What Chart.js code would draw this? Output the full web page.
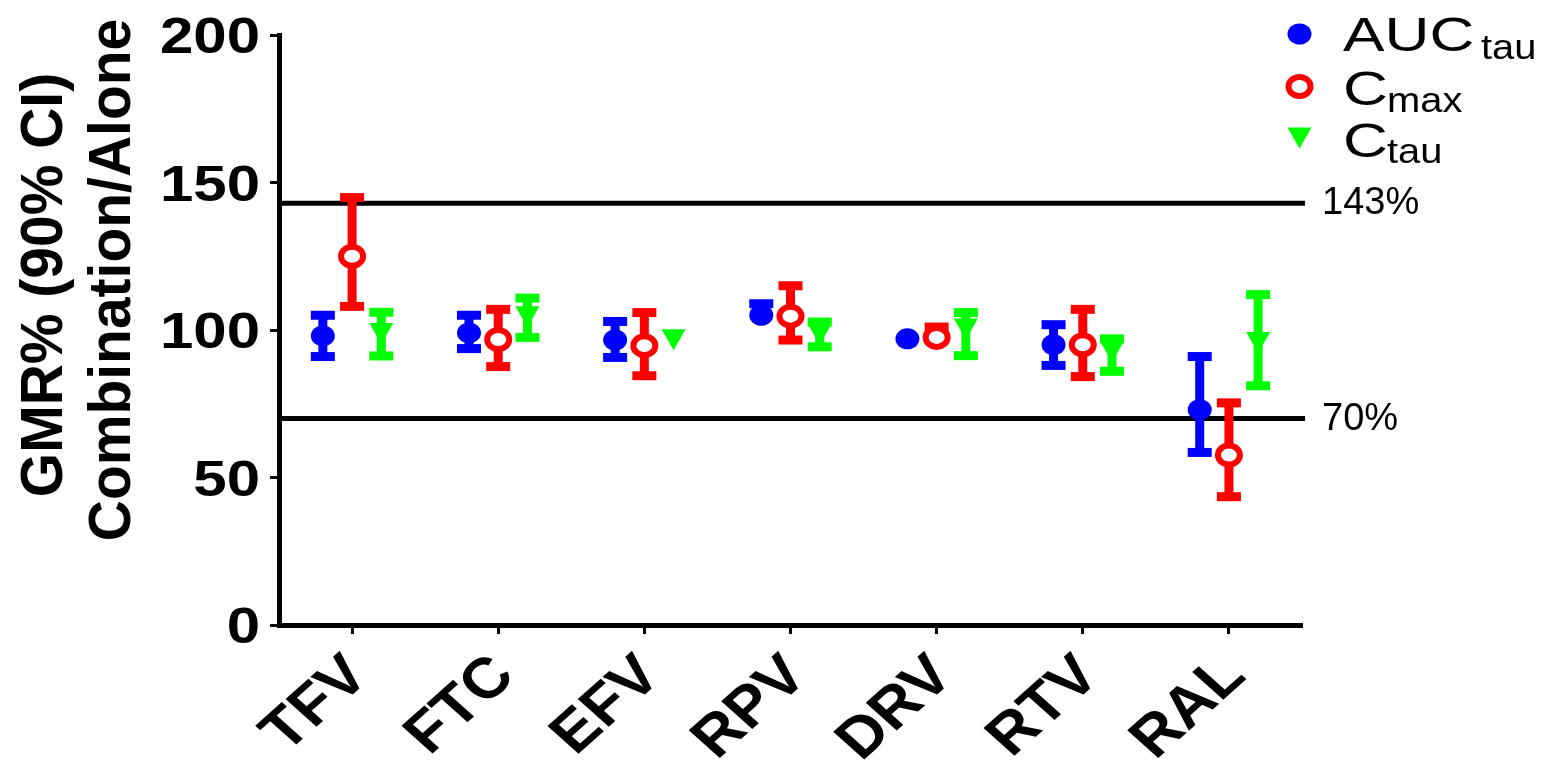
<!DOCTYPE html>
<html>
<head>
<meta charset="utf-8">
<script src="https://cdn.jsdelivr.net/npm/chart.js@4.4.1/dist/chart.umd.min.js"></script>
<style>
  html, body { margin: 0; padding: 0; background: #fff; }
  #wrap { position: relative; width: 1549px; height: 760px; }
</style>
</head>
<body>
<div id="wrap"><canvas id="c"></canvas></div>
<script>
// Drugs on the x axis
const categories = ['TFV', 'FTC', 'EFV', 'RPV', 'DRV', 'RTV', 'RAL'];

// Geometric mean ratio (%) and 90% CI, combination vs. alone
const aucMean  = [98, 99, 96.6, 105, 97, 95, 73];
const aucLow   = [91, 93.7, 90.7, 103, 96, 88, 58.5];
const aucHigh  = [105, 105, 102.9, 108.9, 98.5, 101.8, 91];

const cmaxMean = [125, 96.8, 94.7, 104.7, 97.5, 95, 57.6];
const cmaxLow  = [108, 87.6, 84.5, 96.6, 95.5, 84.2, 43.5];
const cmaxHigh = [144.9, 107, 105.9, 115, 101, 107, 75.3];

const ctauMean = [98.8, 104.5, 96.7, 98.6, 100.3, 92.6, 95.8];
const ctauLow  = [91.2, 97.5, 96, 94.3, 91.3, 86, 81.1];
const ctauHigh = [106, 110.8, 97.5, 102.7, 105.9, 97, 112];

// Axis ticks and bioequivalence limits
const yTicks = [0, 50, 100, 150, 200];
const refLevels = [143, 70];
const refLabels = ['143%', '70%'];

const FONT = '"Liberation Sans", Arial, Helvetica, sans-serif';
const SYMBOL_HALF = 10; // caps closer than this to the mean sit inside the symbol

const series = [
  { label: 'AUC tau', main: 'AUC', sub: 'tau', color: '#0000ff', marker: 'circle',   mean: aucMean,  low: aucLow,  high: aucHigh },
  { label: 'Cmax',    main: 'C',   sub: 'max', color: '#ff0000', marker: 'ring',     mean: cmaxMean, low: cmaxLow, high: cmaxHigh },
  { label: 'Ctau',    main: 'C',   sub: 'tau', color: '#00ff00', marker: 'triangle', mean: ctauMean, low: ctauLow, high: ctauHigh }
];

function drawText(ctx, text, x, y, o) {
  ctx.save();
  ctx.translate(x, y);
  ctx.scale(o.sx || 1, 1);
  if (o.rot) ctx.rotate(o.rot);
  ctx.font = o.font;
  ctx.textAlign = o.align || 'left';
  ctx.textBaseline = o.baseline || 'alphabetic';
  ctx.fillStyle = o.color || '#000';
  ctx.fillText(text, 0, 0);
  ctx.restore();
}

function drawMarker(ctx, style, x, y, color) {
  ctx.save();
  ctx.beginPath();
  if (style === 'circle') {
    ctx.fillStyle = color;
    ctx.ellipse(x, y, 12, 10.5, 0, 0, Math.PI * 2);
    ctx.fill();
  } else if (style === 'ring') {
    ctx.fillStyle = '#fff';
    ctx.strokeStyle = color;
    ctx.lineWidth = 6;
    ctx.ellipse(x, y, 11, 9.5, 0, 0, Math.PI * 2);
    ctx.fill();
    ctx.stroke();
  } else {
    ctx.fillStyle = color;
    ctx.moveTo(x - 12, y - 10.5);
    ctx.lineTo(x + 12, y - 10.5);
    ctx.lineTo(x, y + 10.5);
    ctx.closePath();
    ctx.fill();
  }
  ctx.restore();
}

// Reference lines behind the data
const refLinePlugin = {
  id: 'refLines',
  beforeDatasetsDraw(chart) {
    const { ctx, chartArea, scales: { y } } = chart;
    ctx.save();
    ctx.strokeStyle = '#000';
    ctx.lineWidth = 5;
    refLevels.forEach(v => {
      const py = y.getPixelForValue(v);
      ctx.beginPath();
      ctx.moveTo(chartArea.left, py);
      ctx.lineTo(chartArea.right + 3, py);
      ctx.stroke();
    });
    ctx.restore();
  }
};

// Error-bar caps and mean markers on top of the whisker bars
const errorBarPlugin = {
  id: 'errorBars',
  afterDatasetsDraw(chart) {
    const { ctx, scales: { y } } = chart;
    chart.data.datasets.forEach((ds, di) => {
      const meta = chart.getDatasetMeta(di);
      meta.data.forEach((bar, i) => {
        const x = bar.x;
        const [lo, hi] = ds.data[i];
        const pm = y.getPixelForValue(ds.means[i]);
        ctx.fillStyle = ds.backgroundColor;
        [lo, hi].forEach(v => {
          const py = y.getPixelForValue(v);
          if (Math.abs(py - pm) > SYMBOL_HALF) ctx.fillRect(x - 12, py - 4.5, 24, 9);
        });
        drawMarker(ctx, ds.marker, x, pm, ds.backgroundColor);
      });
    });
  }
};

// Axis labels, titles, limit labels and the legend
const textPlugin = {
  id: 'texts',
  afterDraw(chart) {
    const { ctx, scales: { x, y } } = chart;

    y.ticks.forEach(t => {
      drawText(ctx, String(t.value), 260, y.getPixelForValue(t.value) + 18,
        { font: 'bold 50px ' + FONT, sx: 1.2, align: 'right' });
    });

    chart.data.labels.forEach((lab, i) => {
      const px = x.getPixelForValue(i);
      drawText(ctx, lab, px + 19, 678,
        { font: 'bold 57px ' + FONT, sx: 1.12, rot: -Math.PI / 4, align: 'right' });
    });

    drawText(ctx, 'GMR% (90% CI)', 62, 285,
      { font: 'bold 57px ' + FONT, sx: 1.05, rot: -Math.PI / 2, align: 'center' });
    drawText(ctx, 'Combination/Alone', 130, 280,
      { font: 'bold 57px ' + FONT, sx: 1.05, rot: -Math.PI / 2, align: 'center' });

    refLevels.forEach((v, i) => {
      drawText(ctx, refLabels[i], 1322, y.getPixelForValue(v) + 11,
        { font: '38px ' + FONT });
    });

    const legendY = [34, 86.5, 138];
    const mainBase = [51, 105, 157];
    const subBase = [59, 112, 163];
    const subX = [1481, 1387, 1387];
    series.forEach((s, i) => {
      drawMarker(ctx, s.marker, 1299.5, legendY[i], s.color);
      drawText(ctx, s.main, 1343, mainBase[i], { font: '49px ' + FONT, sx: 1.27 });
      drawText(ctx, s.sub, subX[i], subBase[i], { font: '35px ' + FONT, sx: 1.14 });
    });
  }
};

const axisLine = { display: true, color: '#000', width: 5 };
const tickMarks = { drawOnChartArea: false, drawTicks: true, tickLength: 9, tickWidth: 3, tickColor: '#000' };

new Chart(document.getElementById('c'), {
  type: 'bar',
  data: {
    labels: categories,
    datasets: series.map(s => ({
      label: s.label,
      data: s.low.map((lo, i) => [lo, s.high[i]]),
      backgroundColor: s.color,
      borderWidth: 0,
      maxBarThickness: 9,
      categoryPercentage: 0.6,
      barPercentage: 1,
      means: s.mean,
      marker: s.marker
    }))
  },
  options: {
    responsive: true,
    maintainAspectRatio: false,
    animation: false,
    layout: { padding: { left: 270, right: 247, top: 35, bottom: 126 } },
    plugins: { legend: { display: false }, tooltip: { enabled: false } },
    scales: {
      x: {
        type: 'category',
        offset: true,
        grid: Object.assign({ offset: false }, tickMarks),
        border: axisLine,
        ticks: { display: false }
      },
      y: {
        min: 0,
        max: 200,
        afterBuildTicks: s => { s.ticks = yTicks.map(v => ({ value: v })); },
        grid: tickMarks,
        border: axisLine,
        ticks: { display: false }
      }
    }
  },
  plugins: [refLinePlugin, errorBarPlugin, textPlugin]
});
</script>
</body>
</html>
